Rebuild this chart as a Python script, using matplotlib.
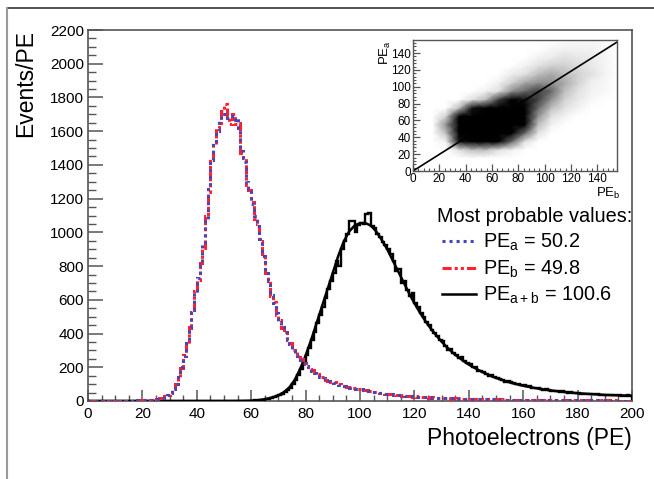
import numpy as np
import matplotlib
matplotlib.use("Agg")
import matplotlib.pyplot as plt
from matplotlib.lines import Line2D
from matplotlib.ticker import MultipleLocator
from matplotlib.colors import PowerNorm

plt.rcParams['font.family'] = ['Liberation Sans', 'DejaVu Sans']
plt.rcParams['mathtext.fontset'] = 'custom'
plt.rcParams['mathtext.rm'] = 'Liberation Sans'
plt.rcParams['mathtext.it'] = 'Liberation Sans:italic'
plt.rcParams['mathtext.bf'] = 'Liberation Sans:bold'

# ---------------- data ----------------
bin_edges = list(range(0, 201))  # 1 PE bins, 0..200

pe_a = [0,1,0,0,1,0,0,1,0,1,1,0,1,1,2,1,2,2,3,3,
        3,4,5,6,8,10,14,20,27,37,50,70,100,140,200,265,345,430,540,640,
        730,815,930,1080,1260,1430,1530,1600,1660,1700,1700,1680,1690,1665,1680,1620,1480,1420,1300,1260,
        1170,1100,1040,960,860,770,710,630,580,520,470,440,410,370,340,310,285,265,245,225,
        205,192,180,168,156,145,138,128,118,112,108,102,97,92,88,84,80,77,74,71,
        70,66,62,59,56,53,50,48,46,44,42,40,38,36,34,33,31,30,29,27,
        26,25,24,23,22,21,20,19,18,17,17,16,16,15,15,14,14,13,13,12,
        12,12,11,11,10,10,10,9,9,9,9,8,8,8,8,7,7,7,7,6,
        6,6,6,6,5,5,5,5,5,5,5,4,4,4,4,4,4,4,4,3,
        3,3,3,3,3,3,3,3,3,3,3,2,2,2,2,2,2,2,2,2]

pe_b = [0,0,1,0,0,1,1,0,0,1,0,1,1,0,1,2,2,1,2,3,
        3,4,4,6,7,11,15,19,28,38,52,72,98,145,195,270,340,440,530,650,
        720,820,910,1100,1240,1440,1520,1620,1650,1720,1760,1690,1640,1700,1640,1650,1470,1440,1280,1250,
        1180,1080,1050,950,870,760,720,620,590,510,480,430,420,360,345,305,290,260,250,220,
        210,188,182,165,160,142,140,125,120,110,110,100,99,90,90,82,82,75,76,70,
        72,64,64,57,58,52,52,46,48,43,43,39,39,35,35,32,32,29,30,26,
        27,24,25,22,23,20,21,18,19,17,18,16,17,14,15,13,15,12,14,12,
        13,11,12,10,11,9,10,9,10,8,9,8,9,7,8,7,8,6,7,6,
        7,5,6,5,6,5,6,4,5,5,5,4,5,4,4,3,4,4,3,4,
        3,3,4,2,3,3,3,2,3,3,2,3,2,2,3,2,2,1,2,2]

pe_sum = [0]*55 + [0,0,1,1,2,
          2,3,4,6,8,11,14,18,22,28,34,42,52,65,80,100,125,155,190,228,
          270,312,360,410,460,510,560,610,665,710,760,830,800,900,950,990,1065,1070,1000,1045,
          1055,1050,1110,1115,1040,1025,990,970,940,925,900,870,830,770,780,700,710,660,620,640,
          580,555,520,500,470,450,420,405,385,360,355,325,300,310,285,270,255,260,235,225,
          220,200,200,180,175,170,160,150,152,140,135,130,125,115,120,110,108,100,98,95,
          92,86,90,80,76,80,72,68,70,64,62,60,58,54,57,52,50,51,48,46,
          46,44,42,44,41,40,39,41,37,36,36,35,37,34,33,35,32,31,33,30]

fit_x = [0, 50, 56] + list(range(60, 201, 2))
fit_y = [0, 0, 0.5,
         2, 4, 8, 14, 22, 34, 52, 80, 125, 190,
         270, 360, 460, 560, 660, 760, 860, 945, 1005, 1040,
         1055, 1055, 1040, 1005, 955, 900, 835, 770, 705, 640,
         580, 525, 475, 430, 390, 352, 318, 288, 262, 238,
         216, 197, 180, 164, 150, 137, 126, 115, 106, 98,
         90, 84, 78, 72, 67, 63, 59, 55, 52, 49,
         46, 44, 42, 40, 38, 36, 35, 34, 33, 32,
         31]

legend_labels = [r'PE$_\mathrm{a}$ = 50.2', r'PE$_\mathrm{b}$ = 49.8', r'PE$_\mathrm{a+b}$ = 100.6']

# inset: density of the PE_a vs PE_b scatter (10 PE cells, rows = PE_a from 0 upward)
inset_cell_centers = list(range(5, 160, 10))
scatter_density = [
    [0,0,0,0,0,0,0,0,0,0,0,0,0,0,0,0],
    [0,0,0,0,0,0,0,0,0,0,0,0,0,0,0,0],
    [0,0,0,1,2,2,1,0.5,0,0,0,0,0,0,0,0],
    [0,0,0.5,6,10,10,8,4,1,0,0,0,0,0,0,0],
    [0,0,2,10,10,10,10,9,4,1,0,0,0,0,0,0],
    [0,0,3,10,10,10,10,10,7,2,0.5,0,0,0,0,0],
    [0,0,1.5,8,10,10,10,10,8,3,1,0.5,0,0,0,0],
    [0,0,0,2,6,9,10,10,7,4,2,1,0.5,0,0,0],
    [0,0,0,0,1,2,5,7,6,5,3,1.5,0.8,0.3,0,0],
    [0,0,0,0,0,0.5,1,3,4,5,4,2,1,0.5,0.3,0],
    [0,0,0,0,0,0,0.5,1.5,2.5,3,3,2.5,1.5,0.6,0.3,0],
    [0,0,0,0,0,0,0,0.7,1,2,2.5,2,1.5,1,0.5,0],
    [0,0,0,0,0,0,0,0,0.5,1,1.5,1.5,1.2,0.8,0.4,0],
    [0,0,0,0,0,0,0,0,0,0.4,0.7,1,0.8,0.7,0.4,0],
    [0,0,0,0,0,0,0,0,0,0,0.3,0.5,0.5,0.5,0.3,0],
    [0,0,0,0,0,0,0,0,0,0,0,0.2,0.3,0.3,0.2,0],
]
inset_line_x = [0, 155]
inset_line_y = [0, 153]

# ---------------- figure ----------------
W, H = 654, 479
fig = plt.figure(figsize=(W/100, H/100), dpi=100)

def fx(px):
    return px / W

def fy(py):
    return 1 - py / H

# canvas border lines
fig.add_artist(Line2D([fx(7), 1], [fy(8), fy(8)], color='#333333', lw=1.2, transform=fig.transFigure))
fig.add_artist(Line2D([fx(7), fx(7)], [0, fy(8)], color='#9a9a9a', lw=1.5, transform=fig.transFigure))

ax = fig.add_axes([fx(88), fy(401), fx(632) - fx(88), fy(30) - fy(401)])
blue = '#4646b4'
red = '#ff2030'

ax.stairs(pe_sum, bin_edges, color='black', lw=1.7, zorder=3)
ax.plot(fit_x, fit_y, color='black', lw=1.8, zorder=3)
ax.stairs(pe_b, bin_edges, color=red, lw=2.2, linestyle=(0, (3, 1, 1, 1, 1, 1)), zorder=4)
ax.stairs(pe_a, bin_edges, color=blue, lw=2.2, linestyle=(0, (1, 1.3)), zorder=5)

ax.set_xlim(0, 200)
ax.set_ylim(0, 2200)
ax.xaxis.set_major_locator(MultipleLocator(20))
ax.xaxis.set_minor_locator(MultipleLocator(5))
ax.yaxis.set_major_locator(MultipleLocator(200))
ax.yaxis.set_minor_locator(MultipleLocator(50))
ax.tick_params(which='both', direction='in', top=False, right=False, colors='#555555',
               labelcolor='black', labelsize=11)
ax.tick_params(axis='y', which='major', length=11, width=1.1, pad=3)
ax.tick_params(axis='y', which='minor', length=5.5, width=1.0)
ax.tick_params(axis='x', which='major', length=8, width=1.1, pad=4)
ax.tick_params(axis='x', which='minor', length=4.3, width=1.0)
for s in ax.spines.values():
    s.set_color('#555555')
    s.set_linewidth(1.2)

fig.text(fx(26), fy(30), 'Events/PE', rotation=90, ha='center', va='top', fontsize=16.5)
fig.text(fx(632), fy(438), 'Photoelectrons (PE)', ha='right', va='center', fontsize=16.5)

# legend (manual)
fig.text(fx(437), fy(222), 'Most probable values:', ha='left', va='baseline', fontsize=14.3)
styles = [dict(color=blue, lw=2.2, linestyle=(0, (1, 1.3))),
          dict(color=red, lw=2.2, linestyle=(0, (3, 1, 1, 1, 1, 1))),
          dict(color='black', lw=1.8, linestyle='-')]
for i, (lab, st) in enumerate(zip(legend_labels, styles)):
    yc = [241, 268, 294][i]
    fig.add_artist(Line2D([fx(442), fx(476)], [fy(yc), fy(yc)], transform=fig.transFigure, **st))
    fig.text(fx(483), fy(yc + 7), lab, ha='left', va='baseline', fontsize=14.3)

# inset
axi = fig.add_axes([fx(413), fy(171), fx(617) - fx(413), fy(40) - fy(171)])
axi.set_facecolor('white')
Xc, Yc = np.meshgrid(inset_cell_centers, inset_cell_centers)
axi.pcolormesh(Xc, Yc, np.array(scatter_density), shading='gouraud', cmap='Greys',
               norm=PowerNorm(gamma=0.85, vmin=0, vmax=6.5), rasterized=True)
axi.plot(inset_line_x, inset_line_y, color='black', lw=1.2)
axi.set_xlim(0, 155)
axi.set_ylim(0, 155.5)
axi.xaxis.set_major_locator(MultipleLocator(20))
axi.xaxis.set_minor_locator(MultipleLocator(4))
axi.yaxis.set_major_locator(MultipleLocator(20))
axi.yaxis.set_minor_locator(MultipleLocator(4))
axi.tick_params(which='both', direction='in', top=False, right=False, colors='#555555',
                labelcolor='black', labelsize=8.5)
axi.tick_params(which='major', length=5, width=0.9, pad=1.5)
axi.tick_params(which='minor', length=2.5, width=0.8)
for s in axi.spines.values():
    s.set_color('#555555')
    s.set_linewidth(1.0)
fig.text(fx(385), fy(40), r'PE$_\mathrm{a}$', rotation=90, ha='center', va='top', fontsize=9.5)
fig.text(fx(621), fy(193), r'PE$_\mathrm{b}$', ha='right', va='center', fontsize=9.5)

fig.savefig('out.png', dpi=100)
